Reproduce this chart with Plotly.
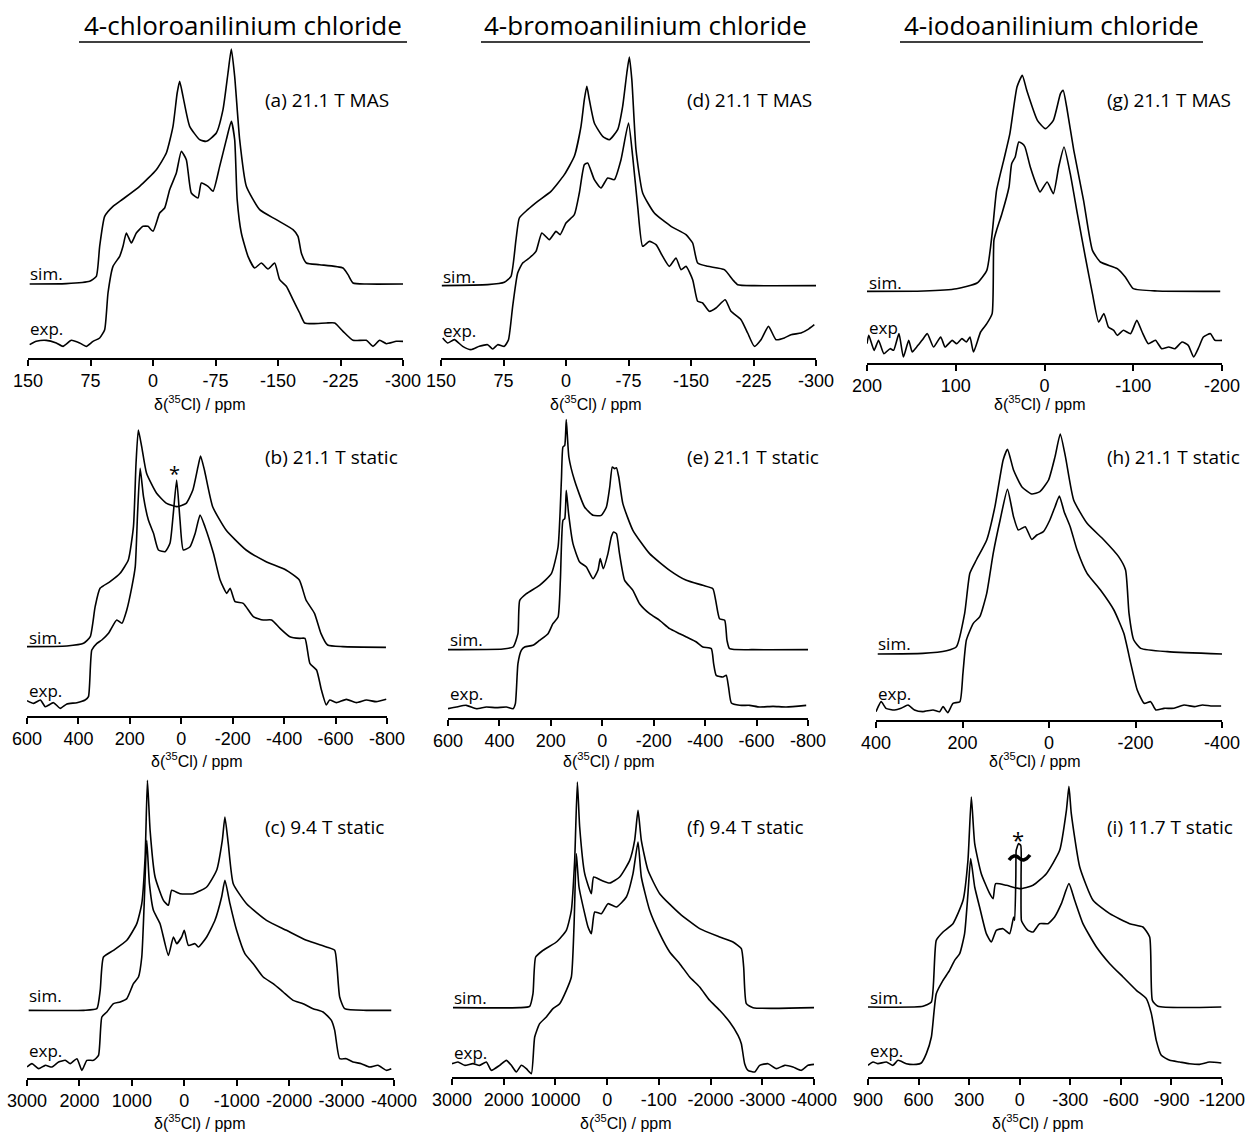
import plotly.graph_objects as go

W, H = 1257, 1137

# ---------------- data (ppm, intensity a.u.) ----------------
# (a) 4-chloroanilinium chloride, 21.1 T MAS
a_sim_x = [148,104,76,68,64,58,48,36,16,-4,-16,-24,-29,-32,-36,-44,-56,-64,-76,-84,-90,-94,-98,-104,-112,-128,-148,-168,-174,-178,-184,-200,-228,-234,-240,-256,-300]
a_sim_y = [222,223,230,245,335,425,455,477,515,565,615,695,795,830,785,695,655,650,675,745,855,927,845,655,515,445,415,385,365,315,285,280,270,250,225,222,222]
a_exp_x = [148,140,128,116,108,98,88,80,72,64,58,54,48,40,36,32,26,20,12,6,0,-8,-14,-20,-28,-34,-40,-46,-54,-58,-66,-72,-80,-88,-94,-98,-101,-106,-114,-122,-130,-138,-146,-152,-160,-168,-176,-182,-192,-208,-218,-228,-240,-256,-264,-272,-280,-292,-300]
a_exp_y = [40,50,53,45,35,53,45,35,50,60,85,195,275,305,335,375,345,375,395,395,380,435,450,505,555,620,595,495,480,525,515,500,575,655,710,655,475,375,305,270,285,267,285,235,215,175,135,105,103,105,105,80,53,53,35,53,43,50,50]

# (b) 4-chloroanilinium chloride, 21.1 T static
b_sim_x = [600,445,380,354,335,316,277,238,206,186,176,167,154,135,96,57,18,-19,-45,-65,-75,-90,-122,-174,-252,-330,-407,-459,-485,-518,-543,-569,-628,-796]
b_sim_y = [208,210,218,238,328,383,403,428,468,568,758,858,808,728,668,638,628,638,678,748,780,738,628,558,498,463,438,408,348,308,248,213,208,206]
b_exp_x = [600,574,548,529,497,471,445,406,374,361,348,328,309,283,251,231,212,192,179,170,160,147,128,108,89,63,44,31,18,5,-8,-34,-54,-73,-92,-125,-151,-177,-190,-209,-241,-280,-319,-351,-384,-422,-461,-481,-500,-526,-545,-564,-577,-603,-642,-681,-720,-758,-797]
b_exp_y = [46,38,48,28,40,23,36,40,48,58,198,218,228,248,288,278,318,388,448,608,743,658,588,548,498,493,518,608,708,588,498,508,548,603,568,488,408,368,383,343,338,298,288,288,263,238,233,233,158,138,78,33,48,40,50,40,48,43,50]

# (c) 4-chloroanilinium chloride, 9.4 T static
c_sim_x = [2968,1921,1668,1604,1541,1350,1096,906,811,747,703,652,557,398,303,240,81,-173,-427,-617,-725,-775,-839,-934,-1188,-1568,-1949,-2330,-2711,-2869,-2913,-2964,-3059,-3472,-3948]
c_sim_y = [203,203,208,263,363,383,413,463,523,663,893,743,603,533,518,563,553,553,573,623,713,783,703,583,523,473,443,413,393,383,333,243,208,203,203]
c_exp_x = [3000,2905,2778,2651,2524,2397,2270,2175,2048,1953,1858,1731,1636,1572,1477,1350,1223,1096,970,874,811,767,716,665,589,462,303,208,144,50,0,-78,-204,-268,-427,-585,-712,-775,-871,-998,-1156,-1315,-1505,-1695,-1886,-2076,-2266,-2457,-2647,-2806,-2869,-2964,-3091,-3218,-3377,-3535,-3694,-3853,-3948]
c_exp_y = [33,43,28,38,33,48,53,43,58,23,53,53,68,183,198,223,228,238,283,303,363,513,713,583,503,463,368,423,403,423,443,398,403,393,423,473,543,593,523,443,373,343,303,283,258,233,223,208,198,173,143,58,58,48,43,33,38,23,28]

# (d) 4-bromoanilinium chloride, 21.1 T MAS
d_sim_x = [149,94,74,66,60,56,46,34,18,2,-10,-18,-22,-25,-28,-34,-44,-52,-62,-68,-73,-76,-79,-84,-92,-106,-126,-144,-152,-158,-170,-190,-200,-206,-226,-300]
d_sim_y = [217,220,227,245,355,420,445,470,500,550,605,695,775,815,775,705,665,655,685,755,855,903,835,625,495,435,395,370,345,285,275,265,235,220,217,217]
d_exp_x = [148,142,134,124,114,104,94,88,82,74,69,64,58,52,44,36,29,20,12,7,0,-10,-16,-22,-26,-34,-42,-50,-58,-66,-75,-80,-86,-92,-100,-108,-116,-124,-132,-138,-144,-152,-158,-164,-172,-180,-191,-198,-210,-218,-226,-234,-243,-252,-262,-270,-282,-290,-298]
d_exp_y = [60,45,55,35,25,35,40,27,40,35,55,155,255,285,300,320,375,355,380,370,405,430,495,580,585,535,510,540,535,595,705,605,455,335,350,340,305,275,300,265,275,235,170,165,140,150,175,140,115,75,35,55,95,55,60,70,75,85,100]

# (e) 4-bromoanilinium chloride, 21.1 T static
e_sim_x = [600,386,347,328,321,295,244,198,172,159,153,146,140,130,108,69,36,4,-16,-29,-39,-48,-55,-64,-80,-119,-184,-262,-327,-391,-430,-441,-456,-476,-485,-495,-586,-800]
e_sim_y = [205,207,213,253,353,373,398,433,513,713,813,818,895,783,713,633,608,608,633,693,753,748,751,723,643,563,493,443,413,398,388,353,298,293,233,208,205,205]
e_exp_x = [600,568,529,490,451,412,373,347,338,328,315,302,270,244,211,192,172,163,153,146,140,131,114,88,62,36,17,8,-4,-22,-35,-44,-55,-67,-87,-119,-145,-184,-223,-262,-301,-327,-366,-391,-424,-433,-443,-469,-482,-491,-502,-534,-573,-612,-664,-715,-793]
e_exp_y = [28,33,38,28,33,31,33,28,43,163,203,213,218,233,253,283,303,413,593,598,683,613,523,468,453,418,443,478,448,493,543,558,553,493,413,383,343,313,293,268,253,243,228,213,208,163,128,123,128,93,45,38,38,33,35,33,38]

# (f) 4-bromoanilinium chloride, 9.4 T static
f_sim_x = [2981,1691,1498,1434,1382,1240,982,789,692,628,576,531,434,306,261,112,-49,-242,-436,-532,-597,-661,-790,-1016,-1403,-1789,-2176,-2434,-2595,-2640,-2692,-2821,-4000]
f_sim_y = [208,208,212,250,360,380,405,440,500,650,885,750,610,550,600,590,582,600,650,710,800,710,620,550,490,445,420,405,385,330,220,208,208]
f_exp_x = [3000,2884,2755,2594,2465,2336,2239,2078,1949,1853,1756,1659,1563,1466,1401,1305,1176,1047,918,789,692,641,596,544,434,370,306,241,112,-17,-178,-371,-500,-597,-661,-822,-1016,-1209,-1403,-1596,-1789,-1982,-2176,-2369,-2531,-2595,-2659,-2724,-2853,-2950,-3111,-3272,-3433,-3594,-3756,-3884,-4000]
f_exp_y = [40,45,35,40,35,45,20,35,50,35,15,35,25,10,120,160,180,205,220,260,300,450,670,570,490,450,430,495,490,520,510,540,610,705,600,500,430,375,340,300,270,230,200,165,125,100,40,20,15,35,40,25,35,30,20,35,38]

# (g) 4-iodoanilinium chloride, 21.1 T MAS
g_sim_x = [200,136,99,76,65,59,54,46,39,31,25,20,8,-1,-10,-18,-21,-25,-33,-44,-54,-63,-82,-91,-100,-127,-198]
g_sim_y = [215,216,223,240,278,388,518,608,688,828,863,818,728,703,728,808,818,768,638,488,338,303,283,258,223,216,215]
g_exp_x = [200,198,192,187,181,174,170,164,159,153,149,144,138,132,125,117,112,104,99,93,88,84,80,72,65,59,57,54,48,40,37,33,29,25,22,16,8,5,-3,-10,-16,-22,-29,-37,-46,-54,-61,-67,-72,-78,-82,-89,-97,-104,-110,-117,-125,-132,-140,-147,-155,-162,-168,-174,-179,-187,-192,-200]
g_exp_y = [58,83,38,68,28,43,38,88,18,68,33,48,68,88,48,78,48,68,58,73,63,78,33,93,118,148,368,398,448,528,598,618,663,658,648,588,528,513,543,508,588,648,568,448,318,208,123,148,108,98,83,98,88,128,93,58,68,43,48,43,63,53,18,48,78,88,68,68]

# (h) 4-iodoanilinium chloride, 21.1 T static
h_sim_x = [396,292,237,214,195,183,168,144,125,106,96,82,63,40,21,1,-14,-26,-38,-57,-88,-127,-161,-177,-185,-196,-212,-274,-400]
h_sim_y = [198,200,208,220,320,440,480,540,640,780,812,750,700,678,685,720,790,858,790,660,590,540,490,450,320,240,215,205,198]
h_exp_x = [400,388,377,357,342,326,311,292,268,253,245,234,222,206,199,191,175,160,144,129,113,96,82,71,55,40,28,13,-2,-14,-24,-35,-49,-65,-88,-119,-150,-173,-189,-204,-220,-235,-247,-266,-289,-312,-336,-355,-374,-398]
h_exp_y = [25,55,35,30,35,45,30,25,30,25,40,22,50,55,140,240,290,310,380,500,600,692,610,570,580,542,555,565,600,640,672,625,580,510,440,390,330,260,170,90,50,55,30,35,35,45,40,45,42,42]

# (i) 4-iodoanilinium chloride, 11.7 T static
i_sim_x = [900,574,524,495,455,396,336,307,287,267,228,178,158,143,79,0,-79,-158,-237,-277,-292,-306,-356,-435,-534,-652,-731,-771,-787,-820,-1196]
i_sim_y = [210,212,225,410,435,460,530,650,840,700,610,550,535,580,575,565,575,610,680,800,872,790,630,530,490,460,450,420,230,212,210]
i_exp_x = [900,870,841,791,752,722,673,613,584,554,524,495,455,416,386,356,327,307,291,267,238,198,168,139,99,60,36,30,23,21,15,8,-6,-8,-10,-19,-49,-79,-118,-168,-207,-247,-292,-326,-375,-455,-534,-613,-692,-751,-781,-810,-840,-890,-949,-1008,-1067,-1126,-1196]
i_exp_y = [35,45,40,45,35,50,40,38,42,70,120,250,290,320,350,370,430,550,655,570,510,430,405,440,445,430,480,470,600,680,690,700,695,600,470,460,440,435,460,460,480,520,580,530,460,390,340,300,260,235,190,110,65,50,45,40,38,45,42]

# tick values / labels
mas_cl_ticks = [150, 75, 0, -75, -150, -225, -300]
mas_cl_text = ["150", "75", "0", "-75", "-150", "-225", "-300"]
st800_ticks = [600, 400, 200, 0, -200, -400, -600, -800]
st800_text = ["600", "400", "200", "0", "-200", "-400", "-600", "-800"]
st4000_ticks = [3000, 2000, 1000, 0, -1000, -2000, -3000, -4000]
st4000_text_c = ["3000", "2000", "1000", "0", "-1000", "-2000", "-3000", "-4000"]
st4000_text_f = ["3000", "2000", "10000", "0", "-100", "-2000", "-3000", "-4000"]
mas_i_ticks = [200, 100, 0, -100, -200]
mas_i_text = ["200", "100", "0", "-100", "-200"]
st_h_ticks = [400, 200, 0, -200, -400]
st_h_text = ["400", "200", "0", "-200", "-400"]
st_i_ticks = [900, 600, 300, 0, -300, -600, -900, -1200]
st_i_text = ["900", "600", "300", "0", "-300", "-600", "-900", "-1200"]

compounds = ["4-chloroanilinium chloride", "4-bromoanilinium chloride", "4-iodoanilinium chloride"]

# ---------------- layout helpers ----------------
def px(x):
    return x / W

def py(y):
    return 1 - y / H

PANEL_H = 340  # pixels
YMAX = 1020    # intensity units spanning the panel height

panels = [
    dict(lab="(a) 21.1 T MAS", sx=a_sim_x, sy=a_sim_y, ex=a_exp_x, ey=a_exp_y, x0=28, x1=403, ay=358, rng=[150, -300], tv=mas_cl_ticks, tt=mas_cl_text, col=0, row=0, simy=255, expy=90, title_x=200),
    dict(lab="(b) 21.1 T static", sx=b_sim_x, sy=b_sim_y, ex=b_exp_x, ey=b_exp_y, x0=27, x1=387, ay=716, rng=[600, -800], tv=st800_ticks, tt=st800_text, col=0, row=1, simy=237, expy=78, title_x=197),
    dict(lab="(c) 9.4 T static", sx=c_sim_x, sy=c_sim_y, ex=c_exp_x, ey=c_exp_y, x0=27, x1=394, ay=1078, rng=[3000, -4000], tv=st4000_ticks, tt=st4000_text_c, col=0, row=2, simy=249, expy=84, title_x=200),
    dict(lab="(d) 21.1 T MAS", sx=d_sim_x, sy=d_sim_y, ex=d_exp_x, ey=d_exp_y, x0=441, x1=816, ay=358, rng=[150, -300], tv=mas_cl_ticks, tt=mas_cl_text, col=1, row=0, simy=246, expy=84, title_x=596),
    dict(lab="(e) 21.1 T static", sx=e_sim_x, sy=e_sim_y, ex=e_exp_x, ey=e_exp_y, x0=448, x1=808, ay=718, rng=[600, -800], tv=st800_ticks, tt=st800_text, col=1, row=1, simy=237, expy=75, title_x=609),
    dict(lab="(f) 9.4 T static", sx=f_sim_x, sy=f_sim_y, ex=f_exp_x, ey=f_exp_y, x0=452, x1=814, ay=1077, rng=[3000, -4000], tv=st4000_ticks, tt=st4000_text_f, col=1, row=2, simy=240, expy=75, title_x=626),
    dict(lab="(g) 21.1 T MAS", sx=g_sim_x, sy=g_sim_y, ex=g_exp_x, ey=g_exp_y, x0=867, x1=1222, ay=363, rng=[200, -200], tv=mas_i_ticks, tt=mas_i_text, col=2, row=0, simy=240, expy=105, title_x=1040, explab="exp"),
    dict(lab="(h) 21.1 T static", sx=h_sim_x, sy=h_sim_y, ex=h_exp_x, ey=h_exp_y, x0=876, x1=1222, ay=720, rng=[400, -400], tv=st_h_ticks, tt=st_h_text, col=2, row=1, simy=231, expy=81, title_x=1035),
    dict(lab="(i) 11.7 T static", sx=i_sim_x, sy=i_sim_y, ex=i_exp_x, ey=i_exp_y, x0=868, x1=1222, ay=1077, rng=[900, -1200], tv=st_i_ticks, tt=st_i_text, col=2, row=2, simy=240, expy=81, title_x=1038),
]

label_x = [263, 685, 1105]
label_y = [100, 457, 827]
title_y = [403, 760, 1122]

fig = go.Figure()
layout = dict(
    width=W, height=H, autosize=False,
    margin=dict(l=0, r=0, t=0, b=0, pad=0, autoexpand=False),
    paper_bgcolor="white", plot_bgcolor="rgba(0,0,0,0)",
    showlegend=False,
)
annotations = []
shapes = []

TICK_FONT = dict(family="Liberation Sans Narrow, Liberation Sans, Arial", size=18, color="black")
TEXT_FONT = "Open Sans, Noto Sans, sans-serif"

for k, p in enumerate(panels):
    n = k + 1
    xa = "x" if n == 1 else f"x{n}"
    ya = "y" if n == 1 else f"y{n}"
    for xs, ys in ((p["sx"], p["sy"]), (p["ex"], p["ey"])):
        fig.add_trace(go.Scatter(x=xs, y=ys, mode="lines", xaxis=xa, yaxis=ya,
                                 line=dict(color="black", width=1.6, shape="spline", smoothing=0.5),
                                 hoverinfo="skip"))
    layout[f"xaxis{n}"] = dict(
        domain=[px(p["x0"]), px(p["x1"])], anchor=ya, range=p["rng"], automargin=False,
        tickmode="array", tickvals=p["tv"], ticktext=p["tt"],
        showline=True, linecolor="black", linewidth=1.5,
        ticks="outside", ticklen=6, tickwidth=1.5, tickcolor="black",
        showgrid=False, zeroline=False, tickfont=TICK_FONT, fixedrange=True,
    )
    layout[f"yaxis{n}"] = dict(
        domain=[py(p["ay"]), py(p["ay"] - PANEL_H)], anchor=xa, range=[0, YMAX],
        visible=False, fixedrange=True, automargin=False,
    )
    annotations.append(dict(text=p["lab"], x=px(label_x[p["col"]]), y=py(label_y[p["row"]]),
                            xref="paper", yref="paper", xanchor="left", yanchor="middle",
                            showarrow=False, font=dict(family=TEXT_FONT, size=19, color="black")))
    annotations.append(dict(text="δ(<sup>35</sup>Cl) / ppm", x=px(p["title_x"]), y=py(title_y[p["row"]]),
                            xref="paper", yref="paper", xanchor="center", yanchor="middle",
                            showarrow=False, font=dict(family="Liberation Sans, Arial", size=16, color="black")))
    annotations.append(dict(text="sim.", x=p["rng"][0], y=p["simy"], xref=xa, yref=ya,
                            xanchor="left", yanchor="middle", showarrow=False,
                            font=dict(family=TEXT_FONT, size=17, color="black")))
    annotations.append(dict(text=p.get("explab", "exp."), x=p["rng"][0], y=p["expy"], xref=xa, yref=ya,
                            xanchor="left", yanchor="middle", showarrow=False,
                            font=dict(family=TEXT_FONT, size=17, color="black")))

header_x = [(79, 407), (481, 810), (900, 1203)]
for name, (hx0, hx1) in zip(compounds, header_x):
    annotations.append(dict(text=name, x=px((hx0 + hx1) / 2), y=py(25), xref="paper", yref="paper",
                            xanchor="center", yanchor="middle", showarrow=False,
                            font=dict(family=TEXT_FONT, size=26, color="black")))
    shapes.append(dict(type="line", xref="paper", yref="paper", x0=px(hx0), x1=px(hx1),
                       y0=py(42), y1=py(42), line=dict(color="black", width=1.5)))

# impurity markers
annotations.append(dict(text="*", x=28, y=729, xref="x2", yref="y2", showarrow=False,
                        font=dict(family=TEXT_FONT, size=20, color="black")))
annotations.append(dict(text="*", x=8, y=715, xref="x9", yref="y9", showarrow=False,
                        font=dict(family=TEXT_FONT, size=22, color="black")))
# break mark on the truncated impurity peak in (i)
bx = [1009, 1014, 1019, 1025, 1030]
by = [860, 853, 858, 862, 855]
path = "M {} {} Q {} {} {} {} T {} {}".format(px(bx[0]), py(by[0]), px(bx[1]), py(by[1]),
                                             px(bx[2]), py(by[2]), px(bx[4]), py(by[4]))
shapes.append(dict(type="path", xref="paper", yref="paper", path=path,
                   line=dict(color="black", width=3.5)))

layout["annotations"] = annotations
layout["shapes"] = shapes
fig.update_layout(**layout)
fig.write_html("out.html")
